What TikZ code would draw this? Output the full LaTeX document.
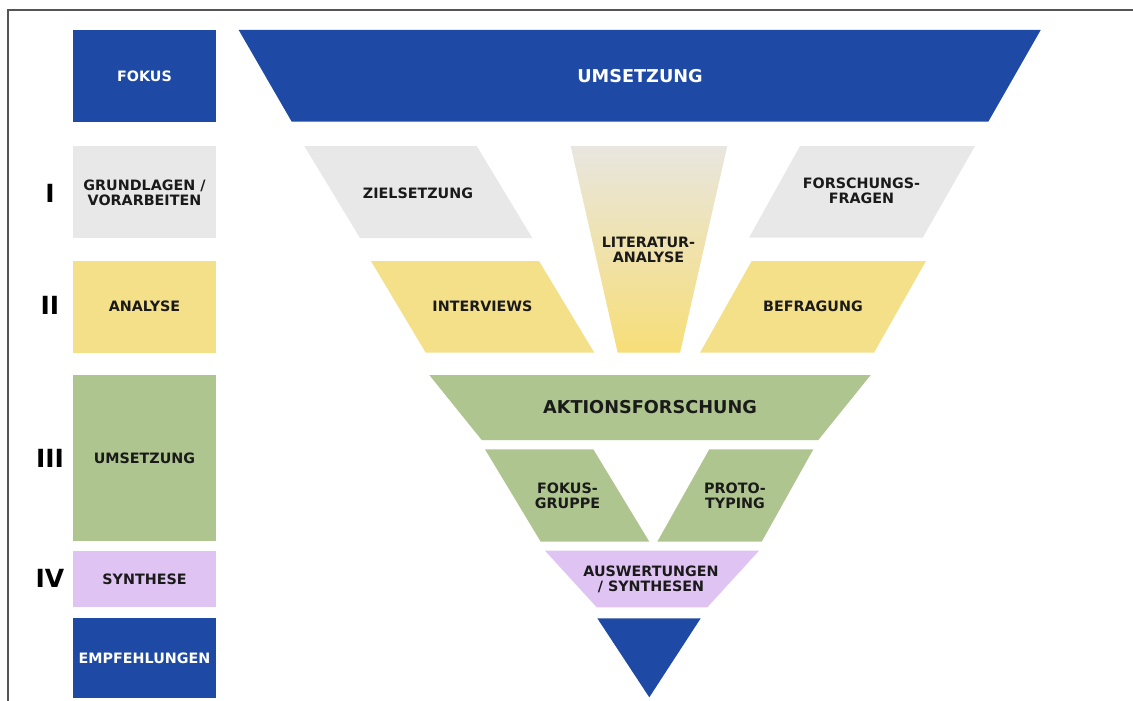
\documentclass[tikz,border=0pt]{standalone}
\usepackage{fontspec}
\setmainfont{DejaVu Sans}
\definecolor{navy}{HTML}{1E4AA5}
\definecolor{stone}{HTML}{E8E8E8}
\definecolor{sun}{HTML}{F5E08A}
\definecolor{sage}{HTML}{AEC58F}
\definecolor{lilac}{HTML}{DFC4F3}
\definecolor{ink}{HTML}{1A1A1A}
\definecolor{frame}{HTML}{555555}
\definecolor{paper}{HTML}{E8E6DF}
\definecolor{gold}{HTML}{F7DE78}
\begin{document}
\begin{tikzpicture}[x=1pt,y=-1pt,
  lbl/.style={font=\bfseries\fontsize{14.3}{15.2}\selectfont, align=center, text=ink, inner sep=0pt},
  big/.style={lbl, font=\bfseries\fontsize{17.7}{19}\selectfont},
  onblue/.style={text=white},
  roman/.style={font=\bfseries\fontsize{25}{25}\selectfont, text=black, inner sep=0pt}]
\useasboundingbox (0,0) rectangle (1133,701);
\fill[white] (0,0) rectangle (1133,701);
% outer frame (top and left edges)
\draw[frame, line width=2pt] (8,705) -- (8,10.5) -- (1140,10.5);

% left column: phase boxes
\fill[navy]  (73,30)    rectangle (216,121.7);
\fill[stone] (73,145.7) rectangle (216,237.7);
\fill[sun]   (73,261)   rectangle (216,352.5);
\fill[sage]  (73,375)   rectangle (216,541);
\fill[lilac] (73,550.7) rectangle (216,607);
\fill[navy]  (73,618.3) rectangle (216,698.3);

\node[lbl, onblue] (fokus) at (144.5,76) {FOKUS};
\node[lbl] (grund) at (144.5,192.5) {GRUNDLAGEN /\\VORARBEITEN};
\node[lbl] (analyse) at (144.5,306.5) {ANALYSE};
\node[lbl] (umsl) at (144.5,458) {UMSETZUNG};
\node[lbl] (synth) at (144.5,579) {SYNTHESE};
\node[lbl, onblue] (empf) at (144.5,658) {EMPFEHLUNGEN};

% phase numerals
\node[roman] (p1) at (50,193) {I};
\node[roman] (p2) at (50,305) {II};
\node[roman] (p3) at (50,458) {III};
\node[roman] (p4) at (50,578) {IV};

% funnel
\fill[navy] (238.7,30) -- (1040.7,30) -- (988.3,121.7) -- (291.7,121.7) -- cycle;
\node[big, onblue] (top) at (640,76) {UMSETZUNG};

\fill[stone] (304.3,146) -- (476.7,146) -- (532.3,238) -- (360,238) -- cycle;
\node[lbl] (ziel) at (418,193) {ZIELSETZUNG};

\shade[top color=paper, bottom color=gold]
  (570.7,146) -- (727.3,146) -- (680,352.7) -- (617.7,352.7) -- cycle;
\node[lbl] (lit) at (648.5,250) {LITERATUR-\\ANALYSE};

\fill[stone] (800,146) -- (975,146) -- (922.7,237.7) -- (749,237.7) -- cycle;
\node[lbl] (frag) at (861.5,191) {FORSCHUNGS-\\FRAGEN};

\fill[sun] (371,261) -- (539,261) -- (594.3,352.7) -- (425.7,352.7) -- cycle;
\node[lbl] (interv) at (482.5,306.7) {INTERVIEWS};

\fill[sun] (751.7,261) -- (926,261) -- (874,352.7) -- (700,352.7) -- cycle;
\node[lbl] (befr) at (813,306.7) {BEFRAGUNG};

\fill[sage] (429.3,375) -- (870.7,375) -- (818.3,440) -- (481.7,440) -- cycle;
\node[big] (akt) at (650,407) {AKTIONSFORSCHUNG};

\fill[sage] (485,449.3) -- (593.3,449.3) -- (649.3,541.7) -- (540.7,541.7) -- cycle;
\node[lbl] (fg) at (567.5,495.5) {FOKUS-\\GRUPPE};

\fill[sage] (709.3,449.3) -- (813.3,449.3) -- (761.7,541.7) -- (657.3,541.7) -- cycle;
\node[lbl] (proto) at (735,495.5) {PROTO-\\TYPING};

\fill[lilac] (545,550.7) -- (759,550.7) -- (707.3,607.3) -- (596.7,607.3) -- cycle;
\node[lbl] (ausw) at (651,579) {AUSWERTUNGEN\\/ SYNTHESEN};

\fill[navy] (597.3,618.3) -- (700.7,618.3) -- (649.3,697.3) -- cycle;
\end{tikzpicture}
\end{document}
